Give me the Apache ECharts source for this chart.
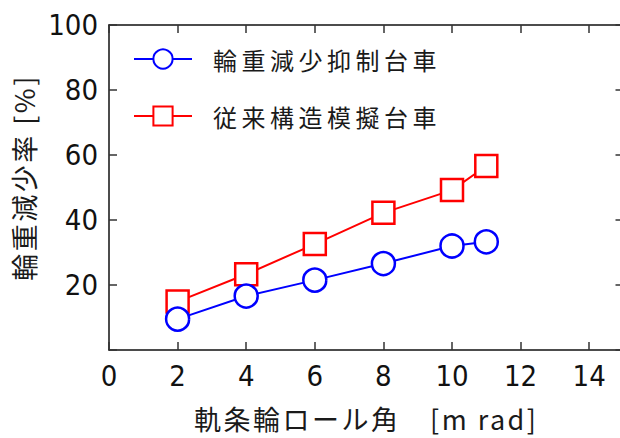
<!DOCTYPE html>
<html>
<head>
<meta charset="utf-8">
<script src="https://cdn.jsdelivr.net/npm/echarts@6/dist/echarts.min.js"></script>
<style>
  html, body { margin: 0; padding: 0; background: #fff; }
  #chart { width: 620px; height: 438px; }
</style>
</head>
<body>
<div id="chart"></div>
<script>
// roll angle of the rail wheel [mrad]
const rollAngle = [2, 4, 6, 8, 10, 11];
// wheel load reduction ratio [%]
const suppressedBogie = [9.5, 16.6, 21.5, 26.6, 32.0, 33.3];
const conventionalBogie = [14.9, 23.3, 32.6, 42.2, 49.2, 56.6];
const seriesNames = ['輪重減少抑制台車', '従来構造模擬台車'];
const xTicks = [0, 2, 4, 6, 8, 10, 12, 14];
const yTicks = [20, 40, 60, 80, 100];

const numFont = '"DejaVu Sans Condensed", "Liberation Sans Narrow", sans-serif';
const cjkFont = '"Noto Sans CJK JP", sans-serif';

const pairs = ys => rollAngle.map((x, i) => [x, ys[i]]);

const frameAxis = {
  axisLine: { show: true, onZero: false, lineStyle: { color: '#111', width: 1.5 } },
  axisTick: { show: true, inside: true, length: 8, lineStyle: { color: '#333', width: 1.5 } },
  splitLine: { show: false }
};

const chart = echarts.init(document.getElementById('chart'), null, { renderer: 'svg' });
chart.setOption({
  animation: false,
  backgroundColor: '#fff',
  // the frame runs out to x = 15, just past the right edge of the page
  grid: { left: 109, top: 25, width: 514.5, height: 325, containLabel: false, outerBoundsMode: 'none' },
  legend: {
    data: seriesNames,
    orient: 'vertical',
    left: 133,
    top: 47,
    padding: 0,
    itemWidth: 58,
    itemHeight: 24,
    itemGap: 33,
    textStyle: { fontFamily: cjkFont, fontSize: 24, lineHeight: 24, color: '#1a1a1a', padding: [0, 0, 0, 16] }
  },
  xAxis: [
    Object.assign({}, frameAxis, {
      type: 'value', min: 0, max: 15, interval: 1,
      axisTick: Object.assign({}, frameAxis.axisTick, { customValues: xTicks }),
      axisLabel: {
        customValues: xTicks,
        fontFamily: numFont, fontSize: 29, color: '#111', margin: 11
      },
      name: '軌条輪ロール角　[m rad]',
      nameLocation: 'middle',
      nameGap: 54,
      nameTextStyle: { fontFamily: cjkFont, fontSize: 27, lineHeight: 28, color: '#1a1a1a' }
    }),
    Object.assign({}, frameAxis, {
      type: 'value', min: 0, max: 15, position: 'top',
      axisTick: Object.assign({}, frameAxis.axisTick, { customValues: xTicks }),
      axisLabel: { show: false }
    })
  ],
  yAxis: [
    Object.assign({}, frameAxis, {
      type: 'value', min: 0, max: 100, interval: 20,
      axisLabel: {
        fontFamily: numFont, fontSize: 29, color: '#111', margin: 11,
        formatter: v => (yTicks.indexOf(v) >= 0 ? String(v) : '')
      },
      name: '輪重減少率 [%]',
      nameLocation: 'middle',
      nameRotate: 90,
      nameGap: 68,
      nameTextStyle: { fontFamily: cjkFont, fontSize: 27, color: '#1a1a1a', padding: [0, 0, 0, 20] }
    }),
    Object.assign({}, frameAxis, {
      type: 'value', min: 0, max: 100, interval: 20, position: 'right',
      axisLabel: { show: false }
    })
  ],
  series: [
    {
      name: seriesNames[1],
      type: 'line',
      data: pairs(conventionalBogie),
      symbol: 'rect',
      symbolSize: 22,
      lineStyle: { color: '#ff0000', width: 2 },
      itemStyle: { color: '#fff', borderColor: '#ff0000', borderWidth: 2.5 },
      z: 2
    },
    {
      name: seriesNames[0],
      type: 'line',
      data: pairs(suppressedBogie),
      symbol: 'circle',
      symbolSize: 23,
      lineStyle: { color: '#0000ff', width: 2 },
      itemStyle: { color: '#fff', borderColor: '#0000ff', borderWidth: 2.5 },
      z: 3
    }
  ]
});

// Widen the tracking of the Japanese captions a little.
function spaceCaptions() {
  document.querySelectorAll('#chart svg text').forEach(t => {
    if (!/[\u3000-\u9fff]/.test(t.textContent)) return;
    const size = parseFloat(getComputedStyle(t).fontSize) || 0;
    t.style.letterSpacing = size < 25.5 ? '4.5px' : '2.5px';
  });
}
chart.getZr().flush();
spaceCaptions();
chart.on('finished', spaceCaptions);
</script>
</body>
</html>
